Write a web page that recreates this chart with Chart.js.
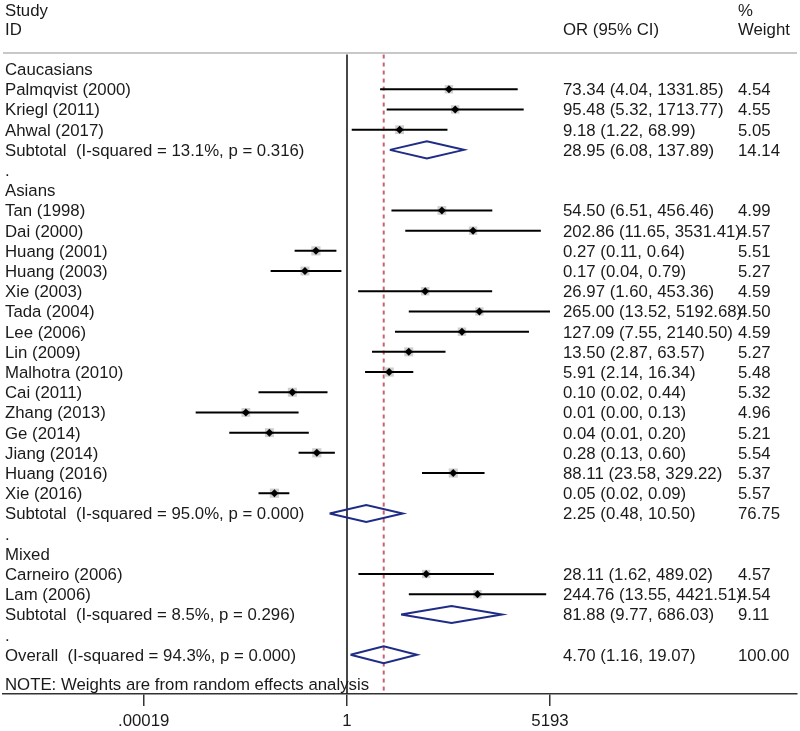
<!DOCTYPE html>
<html>
<head>
<meta charset="utf-8">
<script src="https://cdn.jsdelivr.net/npm/chart.js@4.4.1/dist/chart.umd.min.js"></script>
<style>
html,body{margin:0;padding:0;background:#fff;}
canvas{display:block;}
</style>
</head>
<body>
<canvas id="c" width="800" height="731"></canvas>
<script>
// ---------- data ----------
const rowLabels = [
  "Caucasians",
  "Palmqvist (2000)", "Kriegl (2011)", "Ahwal (2017)",
  "Subtotal  (I-squared = 13.1%, p = 0.316)",
  ".",
  "Asians",
  "Tan (1998)", "Dai (2000)", "Huang (2001)", "Huang (2003)", "Xie (2003)",
  "Tada (2004)", "Lee (2006)", "Lin (2009)", "Malhotra (2010)", "Cai (2011)",
  "Zhang (2013)", "Ge (2014)", "Jiang (2014)", "Huang (2016)", "Xie (2016)",
  "Subtotal  (I-squared = 95.0%, p = 0.000)",
  ".",
  "Mixed",
  "Carneiro (2006)", "Lam (2006)",
  "Subtotal  (I-squared = 8.5%, p = 0.296)",
  ".",
  "Overall  (I-squared = 94.3%, p = 0.000)"
];
// kind: g = group heading, s = study, p = pooled estimate, d = spacer dot
const rowKinds = ["g","s","s","s","p","d","g",
  "s","s","s","s","s","s","s","s","s","s","s","s","s","s","s","p","d","g","s","s","p","d","p"];
const oddsRatio = [null, 73.34, 95.48, 9.18, 28.95, null, null,
  54.50, 202.86, 0.27, 0.17, 26.97, 265.00, 127.09, 13.50, 5.91, 0.10,
  0.0141, 0.038, 0.28, 88.11, 0.047, 2.25, null, null,
  28.11, 244.76, 81.88, null, 4.70];
const ciLower = [null, 4.04, 5.32, 1.22, 6.08, null, null,
  6.51, 11.65, 0.11, 0.04, 1.60, 13.52, 7.55, 2.87, 2.14, 0.024,
  0.0017, 0.007, 0.13, 23.58, 0.024, 0.48, null, null,
  1.62, 13.55, 9.77, null, 1.16];
const ciUpper = [null, 1331.85, 1713.77, 68.99, 137.89, null, null,
  456.46, 3531.41, 0.64, 0.79, 453.36, 5192.68, 2140.50, 63.57, 16.34, 0.44,
  0.13, 0.20, 0.60, 329.22, 0.088, 10.50, null, null,
  489.02, 4421.51, 686.03, null, 19.07];
const weights = [null, 4.54, 4.55, 5.05, 14.14, null, null,
  4.99, 4.57, 5.51, 5.27, 4.59, 4.50, 4.59, 5.27, 5.48, 5.32,
  4.96, 5.21, 5.54, 5.37, 5.57, 76.75, null, null,
  4.57, 4.54, 9.11, null, 100.00];
const tickValues = [0.00019, 1, 5193];
const tickLabels = [".00019", "1", "5193"];
const overallOR = 4.70;
const noteText = "NOTE: Weights are from random effects analysis";
const headerLeft = ["Study", "ID"];
const headerMid = "OR (95% CI)";
const headerRight = ["%", "Weight"];

// ---------- layout constants ----------
const X_MIN = 5.06e-7, X_MAX = 1.722e8;
const Y_MIN = -3.42, Y_MAX = 30.94;
const FONT_FAMILY = '"Liberation Sans", Arial, sans-serif';
const FONT = '16.8px ' + FONT_FAMILY;
const TEXT_COLOR = '#1a1a1a';
const COL_LEFT = 5, COL_OR = 563, COL_W = 738;

// ---------- datasets ----------
const datasets = [];
const studyIdx = rowKinds.map((k,i)=>k==='s'?i:-1).filter(i=>i>=0);
const pooledIdx = rowKinds.map((k,i)=>k==='p'?i:-1).filter(i=>i>=0);

// reference lines
datasets.push({
  type:'scatter', showLine:true, order:10,
  data:[{x:X_MIN,y:-0.8},{x:X_MAX,y:-0.8}],
  borderColor:'#c8c8c8', borderWidth:2, pointRadius:0
});
datasets.push({
  type:'scatter', showLine:true, order:9,
  data:[{x:1,y:-0.72},{x:1,y:Y_MAX}],
  borderColor:'#1a1a1a', borderWidth:1.6, pointRadius:0
});
datasets.push({
  type:'scatter', showLine:true, order:9,
  data:[{x:overallOR,y:-0.72},{x:overallOR,y:Y_MAX}],
  borderColor:'#c86070', borderWidth:2, borderDash:[4,4], pointRadius:0
});
// weight boxes
datasets.push({
  type:'scatter', order:8,
  data: studyIdx.map(i=>({x:oddsRatio[i], y:i, w:weights[i]})),
  pointStyle:'rect', backgroundColor:'#cfcfcf', borderWidth:0,
  pointRadius: ctx => 6.2*Math.sqrt((ctx.raw ? ctx.raw.w : 5)/5)
});
// CI lines
studyIdx.forEach(i=>{
  datasets.push({
    type:'scatter', showLine:true, order:4,
    data:[{x:ciLower[i],y:i},{x:ciUpper[i],y:i}],
    borderColor:'#000', borderWidth:2, pointRadius:0
  });
});
// point estimates
datasets.push({
  type:'scatter', order:1,
  data: studyIdx.map(i=>({x:oddsRatio[i], y:i})),
  pointStyle:'rectRot', backgroundColor:'#000', borderColor:'#000', borderWidth:0,
  pointRadius:4
});
// pooled diamonds
pooledIdx.forEach(i=>{
  const h = 0.42;
  datasets.push({
    type:'scatter', showLine:true, order:2,
    data:[{x:ciLower[i],y:i},{x:oddsRatio[i],y:i-h},{x:ciUpper[i],y:i},{x:oddsRatio[i],y:i+h},{x:ciLower[i],y:i}],
    borderColor:'#1f2c86', borderWidth:2, pointRadius:0, tension:0, borderJoinStyle:'miter'
  });
});

// ---------- text plugin ----------
const textPlugin = {
  id:'forestText',
  afterDraw(chart){
    const ctx = chart.ctx, ys = chart.scales.y;
    const rowY = r => ys.getPixelForValue(r) + 6;
    ctx.save();
    ctx.font = FONT;
    ctx.fillStyle = TEXT_COLOR;
    ctx.textBaseline = 'alphabetic';
    ctx.textAlign = 'left';
    ctx.fillText(headerLeft[0], COL_LEFT, rowY(-2.93));
    ctx.fillText(headerLeft[1], COL_LEFT, rowY(-2));
    ctx.fillText(headerMid, COL_OR, rowY(-2));
    ctx.fillText(headerRight[0], COL_W, rowY(-2.93));
    ctx.fillText(headerRight[1], COL_W, rowY(-2));
    rowLabels.forEach((lab,i)=>{
      ctx.fillText(lab, COL_LEFT, rowY(i));
      if (oddsRatio[i] !== null) {
        const s = oddsRatio[i].toFixed(2)+' ('+ciLower[i].toFixed(2)+', '+ciUpper[i].toFixed(2)+')';
        ctx.fillText(s, COL_OR, rowY(i));
        ctx.fillText(weights[i].toFixed(2), COL_W, rowY(i));
      }
    });
    ctx.fillText(noteText, COL_LEFT, rowY(30.45));
    ctx.restore();
  }
};

new Chart(document.getElementById('c'), {
  type:'scatter',
  data:{datasets},
  options:{
    responsive:false, animation:false, devicePixelRatio:1,
    layout:{autoPadding:false, padding:{left:3,right:3,top:0,bottom:0}},
    plugins:{legend:{display:false}, tooltip:{enabled:false}},
    scales:{
      x:{
        type:'logarithmic', min:X_MIN, max:X_MAX, bounds:'data',
        afterBuildTicks: s => { s.ticks = tickValues.map(v=>({value:v})); },
        afterFit: s => { s.height = 37; },
        ticks:{
          autoSkip:false, maxRotation:0, padding:5, color:TEXT_COLOR,
          font:{family:FONT_FAMILY, size:16.8},
          callback:(v)=>{ const k = tickValues.indexOf(v); return k>=0 ? tickLabels[k] : ''; }
        },
        grid:{display:true, drawOnChartArea:false, drawTicks:true, tickLength:12, color:'#333', lineWidth:1.5},
        border:{display:true, color:'#333', width:1.5}
      },
      y:{
        type:'linear', min:Y_MIN, max:Y_MAX, reverse:true, display:false
      }
    }
  },
  plugins:[textPlugin]
});
</script>
</body>
</html>
